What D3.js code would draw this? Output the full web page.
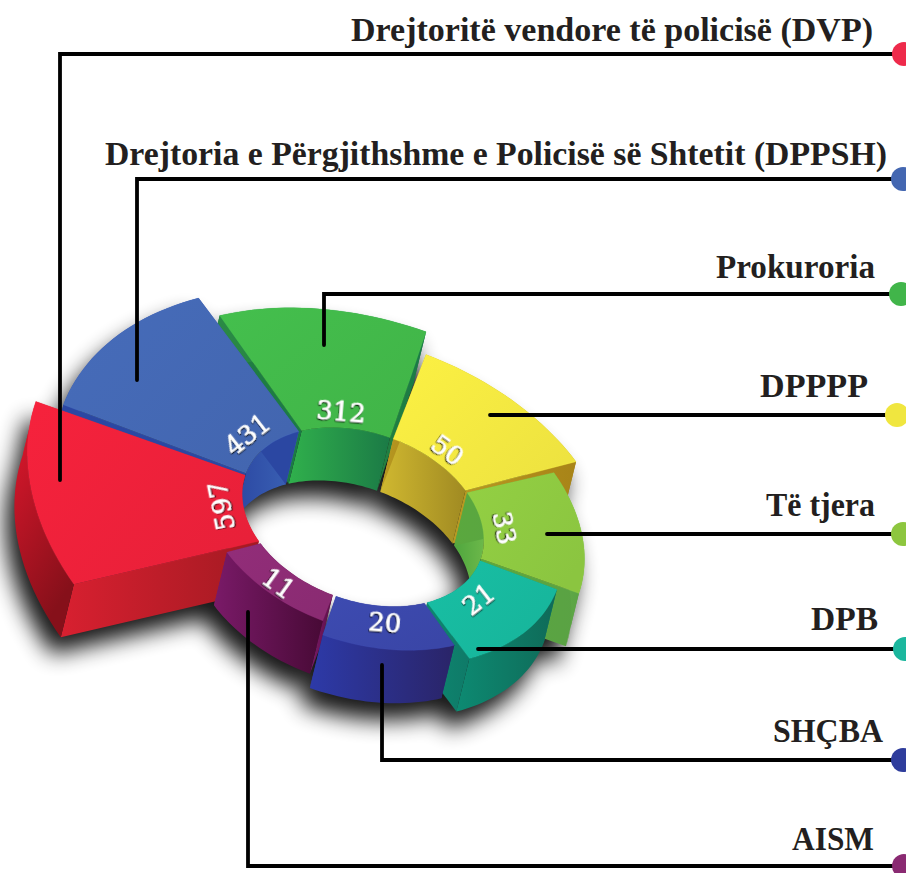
<!DOCTYPE html>
<html>
<head>
	<meta charset="utf-8">
	<title>Institucionet</title>
	<script src="https://d3js.org/d3.v7.min.js"></script>
	<style>
		html, body {
			margin: 0;
			background: #fff;
			overflow: hidden;
		}
	</style>
</head>
<body>
	<svg id="svg"></svg>
	<script>
		// data
		const categories = ["Drejtoritë vendore të policisë (DVP)", "Drejtoria e Përgjithshme e Policisë së Shtetit (DPPSH)", "Prokuroria", "DPPPP", "Të tjera", "DPB", "SHÇBA", "AISM"];
		const values = [597, 431, 312, 50, 33, 21, 20, 11];

		// colours: face, dot, inner wall, outer wall (left and right)
		const faceColors = ["#ea2039", "#4367b1", "#41b649", "#f0e540", "#8cc640", "#17b69c", "#3a47a8", "#8b2b73"];
		const dotColors = ["#ee2a4b", "#4467b1", "#41b54a", "#f0e63f", "#8dc63f", "#1cb79e", "#2f3d9c", "#8a2a72"];
		const innerWallA = ["#c01c28", "#2b47a2", "#30b04c", "#d0b830", "#4fa63e", "#0f7a68", "#2e3a9e", "#6c1458"];
		const innerWallB = ["#a81a22", "#3c64b6", "#1b7a46", "#a08a22", "#6cb84a", "#0f6e5c", "#2a2870", "#4c0a38"];
		const outerWallA = ["#e4182e", "#2b47a2", "#2b8a45", "#c09a20", "#66b04a", "#0d8a72", "#2d3aa8", "#7a1a68"];
		const outerWallB = ["#86101a", "#2b47a2", "#1b7a46", "#a88418", "#5aa244", "#0f6a58", "#2a2468", "#480a36"];
		const sideWallA = ["#d82030", "#2b47a2", "#23803f", "#b89a22", "#5aa83e", "#0d8a72", "#2d3aa8", "#7a1a68"];
		const sideWallB = ["#a31a22", "#2b47a2", "#1b7a46", "#a88418", "#5aa244", "#0f7a68", "#2a2468", "#5c1048"];

		// layout of the text and the leader lines
		const outerRadii = [347, 320, 292, 260, 229, 207, 186, 166];
		const rowY = [54, 179, 294, 415, 534, 649, 760, 866];
		const dotX = [904, 903, 901, 897, 903, 905, 903, 904];
		const labelRight = [873, 887, 875, 868, 875, 878, 883, 874];
		const labelBase = [41, 165, 278, 397, 516, 630, 742, 850];
		const labelWidth = [522, 782, 159, 108, 109, 67, 110, 82];
		const leaderX = [60, 137, 324, 490, 547, 478, 382, 248];
		const leaderY = [480, 380, 345, 415, 534, 649, 665, 612];

		const width = 906, height = 873;
		const center = [363, 517];
		const tilt = 20 * Math.PI / 180;
		const squash = 0.67;
		const innerRadius = 125;
		const depth = [-13, 53];
		const deg = Math.PI / 180;

		const svg = d3.select("#svg")
		.attr("width", width)
		.attr("height", height);

		const outer = d3.scaleOrdinal().domain(values).range(outerRadii);

		// the ring lies on a tilted plane, angles go clockwise on screen
		function project(a, r) {
			const u = r * Math.cos(a), v = r * squash * Math.sin(a);
			return [
				center[0] + u * Math.cos(tilt) - v * Math.sin(tilt),
				center[1] + u * Math.sin(tilt) + v * Math.cos(tilt)
			];
		}

		function down(p) {
			return [p[0] + depth[0], p[1] + depth[1]];
		}

		function arcPoints(a0, a1, r) {
			return d3.range(0, 25).map(i => project(a0 + (a1 - a0) * i / 24, r));
		}

		const line = d3.line().curve(d3.curveLinearClosed);

		const pie = d3.pie()
		.value(1)
		.sort(null)
		.startAngle(135 * deg)
		.endAngle(495 * deg);

		const pad = 1.6 * deg;

		const slices = pie(values).map((d, i) => {
			const a0 = d.startAngle + pad / 2;
			const a1 = d.endAngle - pad / 2;
			const ro = outer(d.data);
			const oArc = arcPoints(a0, a1, ro);
			const iArc = arcPoints(a0, a1, innerRadius);
			return {
				i, value: d.data, a0, a1, ro,
				top: oArc.concat(iArc.slice().reverse()),
				outerWall: oArc.concat(oArc.map(down).reverse()),
				innerWall: iArc.concat(iArc.map(down).reverse()),
				startWall: [oArc[0], iArc[0], down(iArc[0]), down(oArc[0])],
				endWall: [oArc[24], iArc[24], down(iArc[24]), down(oArc[24])],
				mid: (a0 + a1) / 2
			};
		});

		// back to front
		const order = [2, 3, 1, 4, 0, 5, 7, 6];
		const drawn = order.map(i => slices[i]);

		const defs = svg.append("defs");

		const blur = defs.append("filter")
		.attr("id", "blur")
		.attr("x", "-20%").attr("y", "-20%")
		.attr("width", "140%").attr("height", "140%");
		blur.append("feGaussianBlur").attr("stdDeviation", 11);

		const textShadow = defs.append("filter")
		.attr("id", "textShadow")
		.attr("x", "-30%").attr("y", "-30%")
		.attr("width", "160%").attr("height", "160%");
		textShadow.append("feDropShadow")
		.attr("dx", -0.5).attr("dy", 1.2)
		.attr("stdDeviation", 0.6)
		.attr("flood-color", "#000")
		.attr("flood-opacity", 0.95);

		function gradient(id, a, b, x2, y2) {
			const g = defs.append("linearGradient")
			.attr("id", id)
			.attr("x1", 0).attr("y1", 0)
			.attr("x2", x2).attr("y2", y2);
			g.append("stop").attr("offset", "0%").attr("stop-color", a);
			g.append("stop").attr("offset", "100%").attr("stop-color", b);
		}

		slices.forEach(s => {
			const face = faceColors[s.i];
			gradient("top" + s.i, d3.color(face).brighter(0.14), d3.color(face).darker(0.02), 1, 0.7);
			gradient("inner" + s.i, innerWallA[s.i], innerWallB[s.i], 1, 0);
			gradient("outer" + s.i, outerWallA[s.i], outerWallB[s.i], s.i === 0 ? 0.4 : 1, s.i === 0 ? 1 : 0);
			gradient("side" + s.i, sideWallA[s.i], sideWallB[s.i], 1, 0);
		});

		// shadow under the whole ring
		const shadow = svg.append("g")
		.attr("transform", "translate(-9, 17)")
		.attr("filter", "url(#blur)")
		.attr("opacity", 0.9);

		drawn.forEach(s => {
			[s.top, s.outerWall, s.innerWall, s.startWall, s.endWall].forEach(p => {
				shadow.append("path").attr("d", line(p)).attr("fill", "#000");
			});
		});

		const ring = svg.append("g");

		drawn.forEach(s => {
			const g = ring.append("g");
			g.append("path").attr("d", line(s.innerWall)).attr("fill", `url(#inner${s.i})`);
			g.append("path").attr("d", line(s.startWall)).attr("fill", `url(#side${s.i})`);
			g.append("path").attr("d", line(s.endWall)).attr("fill", `url(#side${s.i})`);
			g.append("path").attr("d", line(s.outerWall)).attr("fill", `url(#outer${s.i})`);
			g.append("path").attr("d", line(s.top))
			.attr("fill", `url(#top${s.i})`)
			.attr("stroke", d3.color(faceColors[s.i]).brighter(0.3))
			.attr("stroke-opacity", 0.4)
			.attr("stroke-width", 0.7);
		});

		// numbers on the faces, they follow the arc
		svg.append("g").selectAll("text")
		.data(slices)
		.enter()
		.append("text")
		.attr("transform", d => {
			const p = project(d.mid, 148);
			const q = project(d.mid + 0.01, 148);
			let angle = Math.atan2(q[1] - p[1], q[0] - p[0]) / deg;
			if (angle > 85) angle -= 180;
			if (angle < -110) angle += 180;
			return `translate(${p[0]}, ${p[1]}) rotate(${angle})`;
		})
		.attr("text-anchor", "middle")
		.attr("dy", "0.36em")
		.attr("font-family", "'DejaVu Serif', serif")
		.attr("font-size", 26)
		.attr("fill", "#fff")
		.attr("stroke", "#fff")
		.attr("stroke-width", 0.5)
		.attr("filter", "url(#textShadow)")
		.text(d => d.value);

		// leader lines
		const leader = d3.line();

		svg.append("g").selectAll("path")
		.data(categories)
		.enter()
		.append("path")
		.attr("d", (d, i) => {
			const pts = [[leaderX[i], leaderY[i]]];
			if (leaderY[i] !== rowY[i]) pts.push([leaderX[i], rowY[i]]);
			pts.push([dotX[i] - 8, rowY[i]]);
			return leader(pts);
		})
		.attr("fill", "none")
		.attr("stroke", "#000")
		.attr("stroke-width", 3.8)
		.attr("stroke-linecap", "round")
		.attr("stroke-linejoin", "miter");

		svg.append("g").selectAll("circle")
		.data(categories)
		.enter()
		.append("circle")
		.attr("cx", (d, i) => dotX[i])
		.attr("cy", (d, i) => rowY[i])
		.attr("r", 12)
		.attr("fill", (d, i) => dotColors[i]);

		svg.append("g").selectAll("text")
		.data(categories)
		.enter()
		.append("text")
		.attr("x", (d, i) => labelRight[i])
		.attr("y", (d, i) => labelBase[i])
		.attr("text-anchor", "end")
		.attr("textLength", (d, i) => labelWidth[i])
		.attr("lengthAdjust", "spacingAndGlyphs")
		.attr("font-family", "'Liberation Serif', serif")
		.attr("font-weight", "bold")
		.attr("font-size", 33.8)
		.attr("fill", "#231f20")
		.text(d => d);
	</script>
</body>
</html>
